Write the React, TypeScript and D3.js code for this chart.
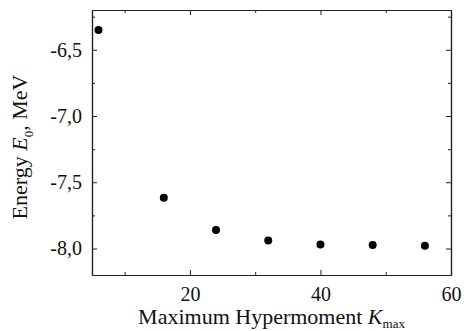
import React, { useEffect, useRef } from 'react'
import * as d3 from 'd3'

const kMax = [6, 16, 24, 32, 40, 48, 56]
const energy = [-6.35, -7.617, -7.861, -7.94, -7.97, -7.973, -7.98]
const xMajor = [20, 40, 60]
const xMinor = [10, 30, 50]
const yMajor = [-6.5, -7.0, -7.5, -8.0]
const yMinor = [-6.25, -6.75, -7.25, -7.75]

const FONT = '"Liberation Serif", "Times New Roman", Times, serif'

export default function App() {
  const svgRef = useRef<SVGSVGElement>(null)

  useEffect(() => {
    document.body.style.margin = '0'
    const width = 464
    const height = 331
    const m = { left: 92, right: 13, top: 10, bottom: 56 }
    const svg = d3.select(svgRef.current)
    svg.selectAll('*').remove()
    svg.attr('width', width).attr('height', height)
      .attr('font-family', FONT)

    const x = d3.scaleLinear().domain([5, 60]).range([m.left, width - m.right])
    const y = d3.scaleLinear().domain([-8.2, -6.2]).range([height - m.bottom, m.top])
    const fmt = (d: number) => d.toFixed(1).replace('.', ',')

    const style = (g: any) => {
      g.attr('font-family', FONT)
      g.select('.domain').attr('stroke', '#222').attr('stroke-width', 1.2)
      g.selectAll('.tick line').attr('stroke', '#222')
      g.selectAll('.tick text').attr('fill', '#111').attr('font-size', 20)
    }

    // bottom & top
    svg.append('g').attr('transform', `translate(0,${y(-8.2)})`)
      .call(d3.axisBottom(x).tickValues(xMajor).tickSize(-5).tickSizeOuter(0).tickPadding(12).tickFormat(d3.format('d')) as any)
      .call(style)
    svg.append('g').attr('transform', `translate(0,${y(-8.2)})`)
      .call(d3.axisBottom(x).tickValues(xMinor).tickSize(-3).tickSizeOuter(0).tickFormat(() => '') as any)
      .call(style)
    svg.append('g').attr('transform', `translate(0,${y(-6.2)})`)
      .call(d3.axisTop(x).tickValues(xMajor).tickSize(-5).tickSizeOuter(0).tickFormat(() => '') as any)
      .call(style)
    svg.append('g').attr('transform', `translate(0,${y(-6.2)})`)
      .call(d3.axisTop(x).tickValues(xMinor).tickSize(-3).tickSizeOuter(0).tickFormat(() => '') as any)
      .call(style)

    // left & right
    svg.append('g').attr('transform', `translate(${x(5)},0)`)
      .call(d3.axisLeft(y).tickValues(yMajor).tickSize(-5).tickSizeOuter(0).tickPadding(10).tickFormat((d: any) => fmt(d)) as any)
      .call(style)
    svg.append('g').attr('transform', `translate(${x(5)},0)`)
      .call(d3.axisLeft(y).tickValues(yMinor).tickSize(-3).tickSizeOuter(0).tickFormat(() => '') as any)
      .call(style)
    svg.append('g').attr('transform', `translate(${x(60)},0)`)
      .call(d3.axisRight(y).tickValues(yMajor).tickSize(-5).tickSizeOuter(0).tickFormat(() => '') as any)
      .call(style)
    svg.append('g').attr('transform', `translate(${x(60)},0)`)
      .call(d3.axisRight(y).tickValues(yMinor).tickSize(-3).tickSizeOuter(0).tickFormat(() => '') as any)
      .call(style)

    // points
    svg.selectAll('.pt')
      .data(kMax)
      .join('circle')
      .attr('cx', d => x(d))
      .attr('cy', (d, i) => y(energy[i]))
      .attr('r', 4)
      .attr('fill', '#000')

    // x title
    const xt = svg.append('text')
      .attr('x', (x(5) + x(60)) / 2)
      .attr('y', 324)
      .attr('text-anchor', 'middle')
      .attr('font-size', 22)
      .attr('fill', '#111')
    xt.append('tspan').text('Maximum Hypermoment ')
    xt.append('tspan').text('K').attr('font-style', 'italic')
    xt.append('tspan').text('max').attr('dy', 4).attr('font-size', 13)

    // y title
    const yt = svg.append('text')
      .attr('transform', `translate(27,147) rotate(-90)`)
      .attr('text-anchor', 'middle')
      .attr('font-size', 22)
      .attr('fill', '#111')
    yt.append('tspan').text('Energy ')
    yt.append('tspan').text('E').attr('font-style', 'italic')
    yt.append('tspan').text('0').attr('dy', 6).attr('font-size', 13)
    yt.append('tspan').text(', MeV').attr('dy', -6)
  }, [])

  return <svg ref={svgRef}></svg>
}
